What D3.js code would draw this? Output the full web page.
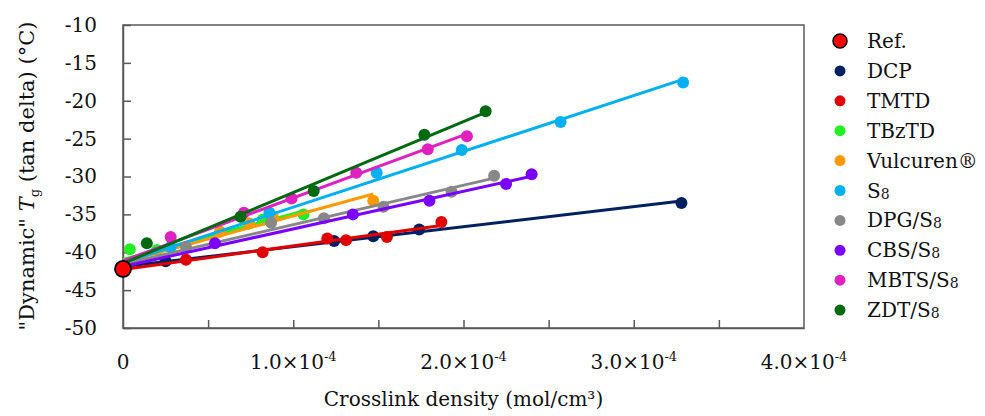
<!DOCTYPE html>
<html>
<head>
<meta charset="utf-8">
<script src="https://cdn.jsdelivr.net/npm/d3@7"></script>
<style>
  html, body { margin: 0; padding: 0; background: #ffffff; }
  svg { display: block; }
  text { font-family: "DejaVu Serif", "Liberation Serif", serif; fill: #111; }
</style>
</head>
<body>
<svg id="chart" width="985" height="416"></svg>
<script>
// ---- data (x in units of 1e-4 mol/cm3, y in °C) ----
const categories = ["Ref.", "DCP", "TMTD", "TBzTD", "Vulcuren®", "S8", "DPG/S8", "CBS/S8", "MBTS/S8", "ZDT/S8"];
const colors = ["#ff0000", "#002060", "#e00000", "#22ee22", "#ff9900", "#00b0f0", "#888888", "#7a00ff", "#e020c0", "#006a10"];

const refX = [0];
const refY = [-42.2];
const dcpX = [0.25, 1.24, 1.47, 1.74, 3.28];
const dcpY = [-41.2, -38.5, -37.9, -37.0, -33.5];
const tmtdX = [0.37, 0.82, 1.20, 1.31, 1.55, 1.87];
const tmtdY = [-41.0, -40.0, -38.2, -38.4, -38.0, -36.0];
const tbztdX = [0.04, 0.20, 0.74, 0.82, 1.06];
const tbztdY = [-39.6, -39.7, -36.2, -35.7, -35.0];
const vulcX = [0.57, 0.74, 0.88, 1.47];
const vulcY = [-37.3, -36.2, -35.3, -33.2];
const s8X = [0.28, 0.86, 1.49, 1.99, 2.57, 3.29];
const s8Y = [-39.3, -34.8, -29.5, -26.5, -22.8, -17.6];
const dpgX = [0.37, 0.87, 1.18, 1.53, 1.93, 2.18];
const dpgY = [-39.3, -36.1, -35.5, -34.0, -32.0, -29.9];
const cbsX = [0.54, 1.35, 1.80, 2.25, 2.40];
const cbsY = [-38.8, -35.0, -33.2, -31.0, -29.7];
const mbtsX = [0.28, 0.71, 0.99, 1.37, 1.79, 2.02];
const mbtsY = [-38.0, -34.8, -32.9, -29.5, -26.4, -24.7];
const zdtX = [0.14, 0.69, 1.12, 1.77, 2.13];
const zdtY = [-38.8, -35.3, -31.9, -24.5, -21.4];

const yTicks = [-10, -15, -20, -25, -30, -35, -40, -45, -50];
const xTickLabels = ["0", "1.0×10", "2.0×10", "3.0×10", "4.0×10"];
const xTickValues = [0, 1, 2, 3, 4];
const xMinorTicks = [0.5, 1, 1.5, 2, 2.5, 3, 3.5];

const seriesX = [dcpX, tmtdX, tbztdX, vulcX, s8X, dpgX, cbsX, mbtsX, zdtX];
const seriesY = [dcpY, tmtdY, tbztdY, vulcY, s8Y, dpgY, cbsY, mbtsY, zdtY];

// ---- layout ----
const svg = d3.select("#chart");
const L = 123, R = 804, T = 25, B = 328;
const x = d3.scaleLinear().domain([0, 4]).range([L, R]);
const y = d3.scaleLinear().domain([-50, -10]).range([B, T]);
const axisColor = "#595959";

// plot frame
svg.append("rect").attr("x", L).attr("y", T).attr("width", R - L).attr("height", B - T)
  .attr("fill", "none").attr("stroke", axisColor).attr("stroke-width", 1.5);

// y axis (ticks inside)
const yAxis = d3.axisLeft(y).tickValues(yTicks).tickSizeInner(-8).tickSizeOuter(0).tickPadding(26).tickFormat(d => d);
const gy = svg.append("g").attr("transform", `translate(${L},0)`).call(yAxis);
gy.select(".domain").attr("stroke", axisColor).attr("stroke-width", 1.5);
gy.selectAll(".tick line").attr("stroke", axisColor).attr("stroke-width", 1.5);
gy.selectAll(".tick text").attr("font-size", 20).attr("font-family", "DejaVu Serif").attr("fill", "#111");

// x axis minor ticks (inside)
const xAxis = d3.axisBottom(x).tickValues(xMinorTicks).tickSizeInner(-8).tickSizeOuter(0).tickFormat("");
const gx = svg.append("g").attr("transform", `translate(0,${B})`).call(xAxis);
gx.select(".domain").attr("stroke", axisColor).attr("stroke-width", 1.5);
gx.selectAll(".tick line").attr("stroke", axisColor).attr("stroke-width", 1.5);

// x tick labels
xTickValues.forEach((v, i) => {
  const t = svg.append("text").attr("x", x(v)).attr("y", 369).attr("text-anchor", "middle")
    .attr("font-size", 20);
  t.append("tspan").text(xTickLabels[i]);
  if (v !== 0) {
    t.append("tspan").attr("font-size", 13).attr("dy", -8).text("-4");
  }
});

// axis titles
svg.append("text").attr("x", (L + R) / 2).attr("y", 406).attr("text-anchor", "middle")
  .attr("font-size", 20).text("Crosslink density (mol/cm³)");

const yt = svg.append("text").attr("transform", "translate(34,176) rotate(-90)")
  .attr("text-anchor", "middle").attr("font-size", 21);
yt.append("tspan").text("\"Dynamic\" ");
yt.append("tspan").attr("font-style", "italic").text("T");
yt.append("tspan").attr("font-size", 13).attr("dy", 5).text("g");
yt.append("tspan").attr("dy", -5).text(" (tan delta) (°C)");

// ---- series: fitted line then markers ----
function fit(xs, ys) {
  const n = xs.length;
  const mx = d3.mean(xs), my = d3.mean(ys);
  let sxy = 0, sxx = 0;
  for (let i = 0; i < n; i++) { sxy += (xs[i] - mx) * (ys[i] - my); sxx += (xs[i] - mx) ** 2; }
  const b = sxy / sxx;
  return { b, a: my - b * mx };
}

const plot = svg.append("g");
seriesX.forEach((xs, si) => {
  const allX = refX.concat(xs), allY = refY.concat(seriesY[si]);
  const f = fit(allX, allY);
  const x1 = d3.max(xs);
  const col = colors[si + 1];
  plot.append("line")
    .attr("x1", x(0)).attr("y1", y(f.a))
    .attr("x2", x(x1)).attr("y2", y(f.a + f.b * x1))
    .attr("stroke", col).attr("stroke-width", 3);
  plot.selectAll(null).data(xs.map((v, i) => [v, seriesY[si][i]])).enter()
    .append("circle").attr("cx", d => x(d[0])).attr("cy", d => y(d[1])).attr("r", 6)
    .attr("fill", col);
});
// Ref point
plot.selectAll(null).data(refX.map((v, i) => [v, refY[i]])).enter()
  .append("circle").attr("cx", d => x(d[0])).attr("cy", d => y(d[1])).attr("r", 8)
  .attr("fill", colors[0]).attr("stroke", "#000").attr("stroke-width", 1.8);

// ---- legend ----
const lg = svg.append("g");
categories.forEach((c, i) => {
  const cy = 41 + i * 29.9;
  lg.append("circle").attr("cx", 840).attr("cy", cy).attr("r", i === 0 ? 7 : 5.5)
    .attr("fill", colors[i]).attr("stroke", i === 0 ? "#000" : "none").attr("stroke-width", 1.5);
  const t = lg.append("text").attr("x", 867).attr("y", cy + 7).attr("font-size", 20);
  const m = c.match(/^(.*S)8$/);
  if (m) {
    t.append("tspan").text(m[1]);
    t.append("tspan").attr("font-size", 14).attr("dy", 1).text("8");
  } else {
    t.text(c);
  }
});
</script>
</body>
</html>
